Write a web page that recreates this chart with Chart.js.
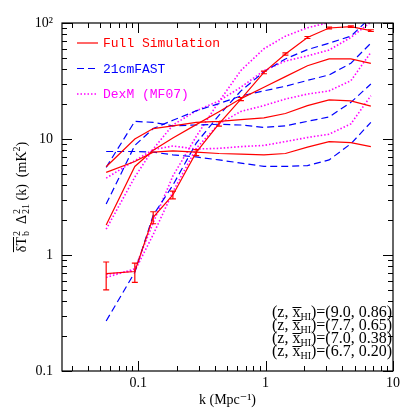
<!DOCTYPE html>
<html>
<head>
<meta charset="utf-8">
<script src="https://cdn.jsdelivr.net/npm/chart.js@4.4.1/dist/chart.umd.min.js"></script>
<style>
  html, body { margin: 0; padding: 0; background: #fff; }
</style>
</head>
<body>
<canvas id="ps" width="415" height="415"></canvas>
<script>
// k bins (Mpc^-1), shared by all curves
const kBins = [0.056, 0.094, 0.131, 0.187, 0.285, 0.43, 0.64, 0.97, 1.43, 2.13, 3.15, 4.67, 6.7];

// Full simulation (red, solid)
const sim_z90 = [0.69, 0.72, 2.11, 3.29, 7.66, 13.5, 22.1, 37.5, 54, 75, 90.6, 93, 86];
const sim_z77 = [1.81, 5.8, 8.0, 10.2, 13.3, 17.2, 22.3, 27.9, 34.5, 42.8, 49, 49, 44.8];
const sim_z70 = [5.77, 10.0, 12.3, 13.0, 13.9, 14.2, 14.7, 15.2, 16.6, 19.4, 21.7, 21.3, 19.2];
const sim_z67 = [5.15, 6.4, 7.7, 7.9, 7.7, 7.5, 7.4, 7.3, 7.5, 8.5, 9.5, 9.3, 8.6];
// error bars on the z=9.0 simulation curve
const sim_z90_lo = [0.50, 0.58, 1.86, 3.05, 7.2, 12.9, 21.4, 36.5, 52.8, 73.5, 89, 91.5, 84.5];
const sim_z90_hi = [0.87, 0.85, 2.36, 3.55, 8.1, 14.1, 22.8, 38.5, 55.2, 76.5, 92.2, 94.5, 87.5];

// 21cmFAST (blue, dashed)
const fast_z90 = [0.27, 0.71, 2.2, 4.0, 9.2, 16.0, 26, 38, 49, 59, 67, 77, 112];
const fast_z77 = [2.75, 8.8, 12.3, 14.5, 17.5, 20.2, 23.5, 26, 28.5, 32, 35.7, 45, 67];
const fast_z70 = [5.7, 14.2, 13.9, 13.0, 13.2, 13.4, 13.2, 12.6, 13.0, 14.2, 15.5, 20.7, 29.8];
const fast_z67 = [7.8, 7.8, 7.7, 7.3, 7.0, 6.6, 6.2, 5.8, 5.8, 5.9, 6.6, 9.1, 13.9];

// DexM (magenta, dotted)
const dexm_z90 = [0.64, 0.76, 1.9, 4.8, 10.5, 21, 39, 60, 77, 91, 101, 115, 125];
const dexm_z77 = [1.67, 4.7, 8.2, 13.2, 17.5, 21.3, 28, 38.8, 47, 52, 58.5, 75, 102];
const dexm_z70 = [0.68, 0.73, 1.5, 3.5, 8.3, 13.5, 17.3, 19.4, 22.1, 24.4, 26, 31.8, 55.8];
const dexm_z67 = [4.6, 6.5, 8.1, 8.7, 8.2, 8.3, 8.6, 8.8, 9.5, 10.3, 11, 13.5, 23.6];

// axis ticks and labels
const xTickVals = [0.1, 1, 10];
const xTickText = ['0.1', '1', '10'];
const yTickVals = [0.1, 1, 10, 100];
const yTickText = ['0.1', '1', '10', '10²'];

const legendNames = ['Full Simulation', '21cmFAST', 'DexM (MF07)'];
const annZ = ['9.0', '7.7', '7.0', '6.7'];
const annXHI = ['0.86', '0.65', '0.38', '0.20'];

const RED = '#ff0000', BLUE = '#0000ff', MAG = '#ff00ff';
const SERIF = '"Liberation Serif", "DejaVu Serif", serif';
const MONO = '"Liberation Mono", "DejaVu Sans Mono", monospace';

function pts(ys) {
  return kBins.map((k, i) => ({ x: k, y: ys[i] }));
}
function simSet(ys) {
  return { data: pts(ys), borderColor: RED, borderWidth: 1.2, pointRadius: 0, tension: 0, fill: false };
}
function fastSet(ys) {
  return { data: pts(ys), borderColor: BLUE, borderWidth: 1.2, borderDash: [7, 4], pointRadius: 0, tension: 0, fill: false };
}
function dexmSet(ys) {
  return { data: pts(ys), borderColor: MAG, borderWidth: 1.6, borderDash: [1.5, 2], pointRadius: 0, tension: 0, fill: false };
}

// frame with inward major/minor ticks on all four sides, error bars, legend, labels
const decor = {
  id: 'decor',
  afterDatasetsDraw(chart) {
    const { ctx, chartArea: a, scales: { x, y } } = chart;
    ctx.save();

    // error bars
    ctx.strokeStyle = RED;
    ctx.lineWidth = 1.2;
    ctx.beginPath();
    kBins.forEach((k, i) => {
      const px = x.getPixelForValue(k);
      const y0 = y.getPixelForValue(sim_z90_lo[i]);
      const y1 = y.getPixelForValue(sim_z90_hi[i]);
      ctx.moveTo(px, y0); ctx.lineTo(px, y1);
      ctx.moveTo(px - 3, y0); ctx.lineTo(px + 3, y0);
      ctx.moveTo(px - 3, y1); ctx.lineTo(px + 3, y1);
    });
    ctx.stroke();

    // frame
    ctx.strokeStyle = '#000';
    ctx.lineWidth = 1.2;
    ctx.strokeRect(a.left, a.top, a.right - a.left, a.bottom - a.top);

    ctx.lineWidth = 1;
    ctx.beginPath();
    for (let d = -2; d <= 1; d++) {
      for (let m = 1; m <= 9; m++) {
        const v = m * Math.pow(10, d);
        if (v < x.min || v > x.max * 1.0001) continue;
        const px = Math.round(x.getPixelForValue(v)) + 0.5;
        const len = m === 1 ? 10 : 5;
        ctx.moveTo(px, a.bottom); ctx.lineTo(px, a.bottom - len);
        ctx.moveTo(px, a.top); ctx.lineTo(px, a.top + len);
      }
    }
    for (let d = -1; d <= 2; d++) {
      for (let m = 1; m <= 9; m++) {
        const v = m * Math.pow(10, d);
        if (v < y.min * 0.9999 || v > y.max * 1.0001) continue;
        const py = Math.round(y.getPixelForValue(v)) + 0.5;
        const len = m === 1 ? 10 : 5;
        ctx.moveTo(a.left, py); ctx.lineTo(a.left + len, py);
        ctx.moveTo(a.right, py); ctx.lineTo(a.right - len, py);
      }
    }
    ctx.stroke();

    // legend
    const legColors = [RED, BLUE, MAG];
    const legDash = [[], [7, 4], [1.5, 2]];
    const legWidth = [1.2, 1.2, 1.6];
    ctx.font = '13px ' + MONO;
    ctx.textBaseline = 'middle';
    legendNames.forEach((name, i) => {
      const ly = 43 + i * 25.5;
      ctx.strokeStyle = legColors[i];
      ctx.lineWidth = legWidth[i];
      ctx.setLineDash(legDash[i]);
      ctx.beginPath();
      ctx.moveTo(77, ly); ctx.lineTo(98, ly);
      ctx.stroke();
      ctx.setLineDash([]);
      ctx.fillStyle = legColors[i];
      ctx.fillText(name, 103, ly + 1);
    });

    // (z, xHI) annotations, right aligned
    const fBig = '16px ' + SERIF, fSub = '10px ' + SERIF;
    ctx.fillStyle = '#000';
    ctx.textBaseline = 'alphabetic';
    annZ.forEach((z, i) => {
      const by = 317 + i * 13;
      const p1 = '(z, ', p2 = 'x', p3 = 'HI', p4 = ')=(' + z + ', ' + annXHI[i] + ')';
      ctx.font = fBig;
      const w1 = ctx.measureText(p1).width, w2 = ctx.measureText(p2).width, w4 = ctx.measureText(p4).width;
      ctx.font = fSub;
      const w3 = ctx.measureText(p3).width;
      let tx = a.right - 1 - (w1 + w2 + w3 + w4);
      ctx.font = fBig;
      ctx.fillText(p1, tx, by); tx += w1;
      ctx.fillText(p2, tx, by);
      ctx.fillRect(tx, by - 10, w2 + 1, 1);
      tx += w2;
      ctx.font = fSub;
      ctx.fillText(p3, tx, by + 3); tx += w3;
      ctx.font = fBig;
      ctx.fillText(p4, tx, by);
    });

    // y axis title (rotated)
    drawYTitle(ctx, 21, 197);
    ctx.restore();
  }
};

function drawYTitle(ctx, cx, cy) {
  const fBig = '14px ' + SERIF, fSmall = '10px ' + SERIF;
  ctx.save();
  ctx.translate(cx, cy);
  ctx.rotate(-Math.PI / 2);
  ctx.fillStyle = '#000';
  ctx.textBaseline = 'alphabetic';
  ctx.font = fBig;
  const wdT = ctx.measureText('δT').width;
  const wD = ctx.measureText('Δ').width;
  const tail = ' (k)  (mK';
  const wTail = ctx.measureText(tail).width;
  const wPar = ctx.measureText(')').width;
  ctx.font = fSmall;
  const wSb = Math.max(ctx.measureText('2').width, ctx.measureText('b').width);
  const w21 = ctx.measureText('21').width;
  const w2 = ctx.measureText('2').width;
  const gap = 7;
  const total = wdT + wSb + 1 + gap + wD + w21 + 1 + wTail + w2 + wPar;
  let x = -total / 2;
  const base = 5;
  ctx.font = fBig;
  ctx.fillText('δT', x, base);
  ctx.fillRect(x, base - 13, wdT, 1);
  x += wdT + 1;
  ctx.font = fSmall;
  ctx.fillText('2', x, base - 6);
  ctx.fillText('b', x, base + 3);
  x += wSb + gap;
  ctx.font = fBig;
  ctx.fillText('Δ', x, base);
  x += wD + 1;
  ctx.font = fSmall;
  ctx.fillText('2', x, base - 6);
  ctx.fillText('21', x, base + 3);
  x += w21;
  ctx.font = fBig;
  ctx.fillText(tail, x, base);
  x += wTail;
  ctx.font = fSmall;
  ctx.fillText('2', x, base - 6);
  x += w2;
  ctx.font = fBig;
  ctx.fillText(')', x, base);
  ctx.restore();
}

new Chart(document.getElementById('ps'), {
  type: 'line',
  data: {
    datasets: [
      simSet(sim_z90), simSet(sim_z77), simSet(sim_z70), simSet(sim_z67),
      fastSet(fast_z90), fastSet(fast_z77), fastSet(fast_z70), fastSet(fast_z67),
      dexmSet(dexm_z90), dexmSet(dexm_z77), dexmSet(dexm_z70), dexmSet(dexm_z67)
    ]
  },
  options: {
    responsive: false,
    animation: false,
    layout: { padding: { top: 23, right: 22, left: 0, bottom: 0 } },
    plugins: { legend: { display: false }, tooltip: { enabled: false } },
    scales: {
      x: {
        type: 'logarithmic',
        min: 0.0252,
        max: 10,
        grid: { display: false, drawTicks: false },
        border: { display: false },
        afterBuildTicks: s => { s.ticks = xTickVals.map(v => ({ value: v })); },
        afterFit: s => { s.height = 44; },
        ticks: {
          autoSkip: false, maxRotation: 0, padding: 4, color: '#000',
          font: { family: SERIF, size: 14 },
          callback: (v, i) => xTickText[i]
        },
        title: {
          display: true, text: 'k (Mpc⁻¹)', color: '#000',
          font: { family: SERIF, size: 14 }, padding: { top: 0, bottom: 6 }
        }
      },
      y: {
        type: 'logarithmic',
        min: 0.1,
        max: 100,
        grid: { display: false, drawTicks: false },
        border: { display: false },
        afterBuildTicks: s => { s.ticks = yTickVals.map(v => ({ value: v })); },
        afterFit: s => { s.width = 62; },
        ticks: {
          autoSkip: false, padding: 9, color: '#000',
          font: { family: SERIF, size: 14 },
          callback: (v, i) => yTickText[i]
        }
      }
    }
  },
  plugins: [decor]
});
</script>
</body>
</html>
